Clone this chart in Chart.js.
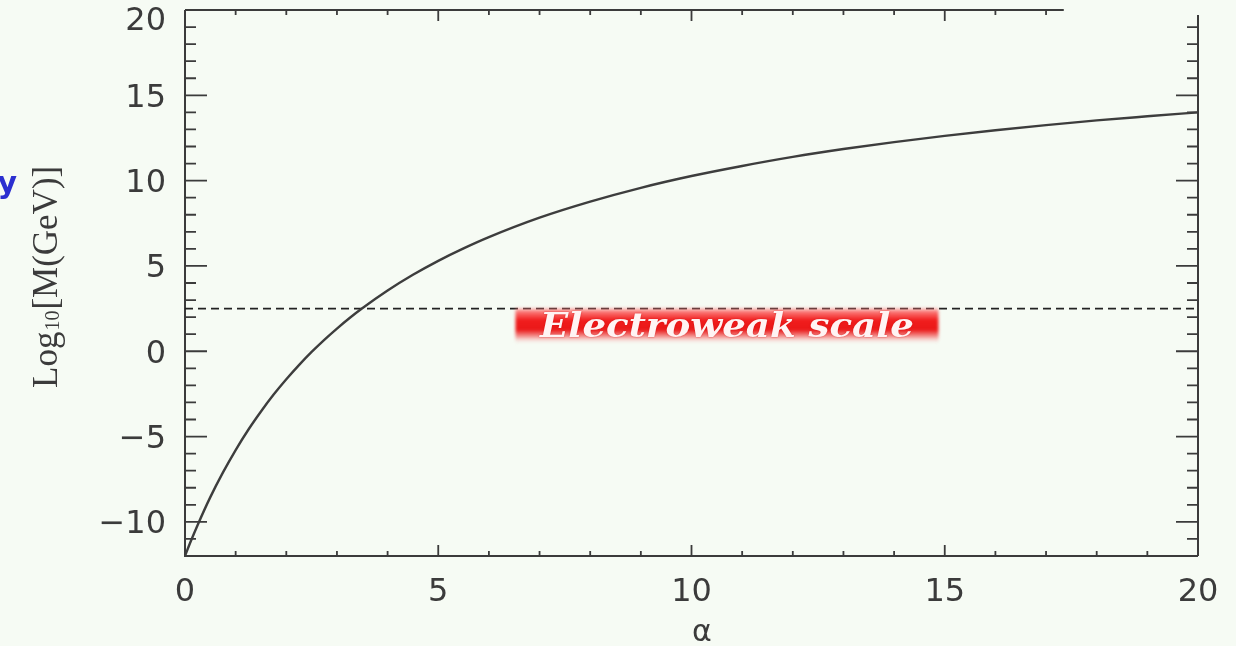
<!DOCTYPE html>
<html>
<head>
<meta charset="utf-8">
<script src="https://cdn.jsdelivr.net/npm/chart.js@4/dist/chart.umd.min.js"></script>
<style>
  html, body { margin: 0; padding: 0; background: #f6fbf4; }
  #wrap { width: 1236px; height: 646px; }
</style>
</head>
<body>
<div id="wrap"><canvas id="c" width="1236" height="646"></canvas></div>
<script>
// Coupling parameter alpha and the resulting mass scale log10[M / GeV]
const alphaValues = [0, 0.1, 0.25, 0.5, 0.75, 1, 1.25, 1.5, 1.75, 2, 2.25, 2.5, 2.75, 3, 3.25, 3.5, 4, 4.5, 5, 5.5, 6, 7, 8, 9, 10, 11, 12, 13, 14, 15, 16, 17, 18, 19, 20];
const logMass     = [-12.0, -11.24, -10.18, -8.55, -7.10, -5.79, -4.60, -3.53, -2.54, -1.64, -0.81, -0.04, 0.67, 1.33, 1.95, 2.52, 3.56, 4.48, 5.30, 6.03, 6.69, 7.83, 8.77, 9.58, 10.27, 10.86, 11.39, 11.85, 12.26, 12.62, 12.95, 13.25, 13.53, 13.77, 14.0];

// Horizontal reference: the electroweak scale
const electroweakAlpha = [0, 20];
const electroweakLevel = [2.5, 2.5];
const electroweakText = 'Electroweak scale';

// Axis ranges and labelled ticks
const xRange = [0, 20];
const yRange = [-12, 20];
const xTicks = [0, 5, 10, 15, 20];
const yTicks = [-10, -5, 0, 5, 10, 15, 20];

const ink = '#3b3b3b';
const tickFont = { family: "'DejaVu Sans', sans-serif", size: 32, weight: 'normal' };
// the topmost y label sits a little below its tick so it stays inside the canvas
const yTickFont = c => (c.tick && c.tick.value === yRange[1]) ? { ...tickFont, lineHeight: 0.55 } : tickFont;

const fmt = v => (v < 0 ? '\u2212' + Math.abs(v) : String(v));
const fmtY = v => (v === yRange[1] ? ['', fmt(v)] : fmt(v));

// Box frame with inward major/minor ticks, plus the annotations
const framePlugin = {
  id: 'frame',
  beforeDatasetsDraw(chart) {
    const { ctx } = chart;
    const xs = chart.scales.x, ys = chart.scales.y;
    const x0 = xs.getPixelForValue(xRange[0]), x1 = xs.getPixelForValue(xRange[1]);
    const yb = ys.getPixelForValue(yRange[0]), yt = ys.getPixelForValue(yRange[1]);
    const topEnd = xs.getPixelForValue(17.35);
    const rightTop = ys.getPixelForValue(19.7);
    ctx.save();
    ctx.strokeStyle = ink;
    ctx.lineWidth = 2;
    ctx.lineCap = 'butt';
    ctx.beginPath();
    ctx.moveTo(x0, yt); ctx.lineTo(x0, yb); ctx.lineTo(x1, yb);
    ctx.moveTo(x1, yb); ctx.lineTo(x1, rightTop);
    ctx.moveTo(x0, yt); ctx.lineTo(topEnd, yt);
    ctx.stroke();
    ctx.lineWidth = 1.8;
    ctx.beginPath();
    for (let v = xRange[0] + 1; v < xRange[1]; v++) {
      const p = xs.getPixelForValue(v);
      const len = v % 5 === 0 ? 11 : 5;
      ctx.moveTo(p, yb); ctx.lineTo(p, yb - len);
      if (v <= 17) { ctx.moveTo(p, yt); ctx.lineTo(p, yt + len); }
    }
    for (let v = yRange[0] + 1; v < yRange[1]; v++) {
      const p = ys.getPixelForValue(v);
      const len = v % 5 === 0 ? 22 : 11;
      ctx.moveTo(x0, p); ctx.lineTo(x0 + len, p);
      if (v <= 19) { ctx.moveTo(x1, p); ctx.lineTo(x1 - len, p); }
    }
    ctx.stroke();
    ctx.restore();
  },
  afterDatasetsDraw(chart) {
    const { ctx } = chart;
    const xs = chart.scales.x, ys = chart.scales.y;
    // red highlighted band with the label
    const cx = xs.getPixelForValue(10.7), cy = ys.getPixelForValue(1.5);
    const w = 423, h = 36;
    const bx = cx - w / 2, by = cy - h / 2;
    ctx.save();
    ctx.filter = 'blur(1.4px)';
    const g = ctx.createLinearGradient(0, by, 0, by + h);
    g.addColorStop(0.0, 'rgba(255,150,150,0.3)');
    g.addColorStop(0.12, 'rgba(250,80,80,0.8)');
    g.addColorStop(0.35, '#f01c1c');
    g.addColorStop(0.62, '#ea1818');
    g.addColorStop(0.8, 'rgba(240,80,80,0.6)');
    g.addColorStop(1.0, 'rgba(255,215,215,0)');
    ctx.fillStyle = g;
    ctx.fillRect(bx, by, w, h);
    ctx.restore();

    ctx.save();
    ctx.font = "italic bold 33px 'DejaVu Serif', serif";
    const tw = ctx.measureText(electroweakText).width;
    const target = 374;
    ctx.translate(cx, cy + 11);
    ctx.scale(target / tw, 1);
    ctx.textAlign = 'center';
    ctx.textBaseline = 'alphabetic';
    ctx.shadowColor = 'rgba(200,0,0,0.6)';
    ctx.shadowBlur = 2;
    ctx.fillStyle = '#fff3f3';
    ctx.fillText(electroweakText, 0, 0);
    ctx.restore();
  },
  afterDraw(chart) {
    const { ctx } = chart;
    ctx.save();
    // x-axis title
    ctx.fillStyle = ink;
    ctx.font = "30px 'DejaVu Sans', sans-serif";
    ctx.textAlign = 'center';
    ctx.textBaseline = 'middle';
    ctx.fillText('\u03B1', 702, 633);

    // y-axis title, rotated, with subscript
    ctx.translate(57, 388);
    ctx.rotate(-Math.PI / 2);
    ctx.textAlign = 'left';
    ctx.textBaseline = 'alphabetic';
    ctx.font = "35px 'Liberation Serif', serif";
    let x = 0;
    ctx.fillText('Log', x, 0); x += ctx.measureText('Log').width + 1;
    ctx.font = "20px 'Liberation Serif', serif";
    ctx.fillText('10', x, 2); x += ctx.measureText('10').width + 1;
    ctx.font = "35px 'Liberation Serif', serif";
    ctx.fillText('[M(GeV)]', x, 0);
    ctx.restore();

    // fragment of a blue word at the left margin
    ctx.save();
    ctx.fillStyle = '#2b2fd0';
    ctx.font = "bold 30px 'DejaVu Sans', sans-serif";
    ctx.textAlign = 'right';
    ctx.textBaseline = 'alphabetic';
    ctx.fillText('y', 17, 193);
    ctx.restore();
  }
};

new Chart(document.getElementById('c'), {
  type: 'line',
  data: {
    datasets: [
      {
        data: alphaValues.map((a, i) => ({ x: a, y: logMass[i] })),
        borderColor: '#3d3d3d',
        borderWidth: 2.4,
        pointRadius: 0,
        cubicInterpolationMode: 'monotone',
        fill: false
      },
      {
        data: electroweakAlpha.map((a, i) => ({ x: a, y: electroweakLevel[i] })),
        borderColor: '#222222',
        borderWidth: 1.6,
        borderDash: [8, 5],
        pointRadius: 0,
        fill: false
      }
    ]
  },
  options: {
    responsive: false,
    animation: false,
    layout: { padding: { top: 10, right: 38, left: 0, bottom: 0 } },
    plugins: { legend: { display: false }, tooltip: { enabled: false } },
    scales: {
      x: {
        type: 'linear',
        min: xRange[0], max: xRange[1],
        afterBuildTicks: s => { s.ticks = xTicks.map(v => ({ value: v })); },
        afterFit: s => { s.height = 90; s.paddingLeft = 0; s.paddingRight = 0; },
        grid: { display: false, drawTicks: false },
        border: { display: false },
        ticks: { font: tickFont, color: ink, padding: 17, maxRotation: 0, autoSkip: false, callback: fmt }
      },
      y: {
        type: 'linear',
        min: yRange[0], max: yRange[1],
        afterBuildTicks: s => { s.ticks = yTicks.map(v => ({ value: v })); },
        afterFit: s => { s.width = 185; s.paddingTop = 0; s.paddingBottom = 0; },
        grid: { display: false, drawTicks: false },
        border: { display: false },
        ticks: { font: yTickFont, color: ink, padding: 19, labelOffset: 3, autoSkip: false, callback: fmtY }
      }
    }
  },
  plugins: [framePlugin]
});
</script>
</body>
</html>
